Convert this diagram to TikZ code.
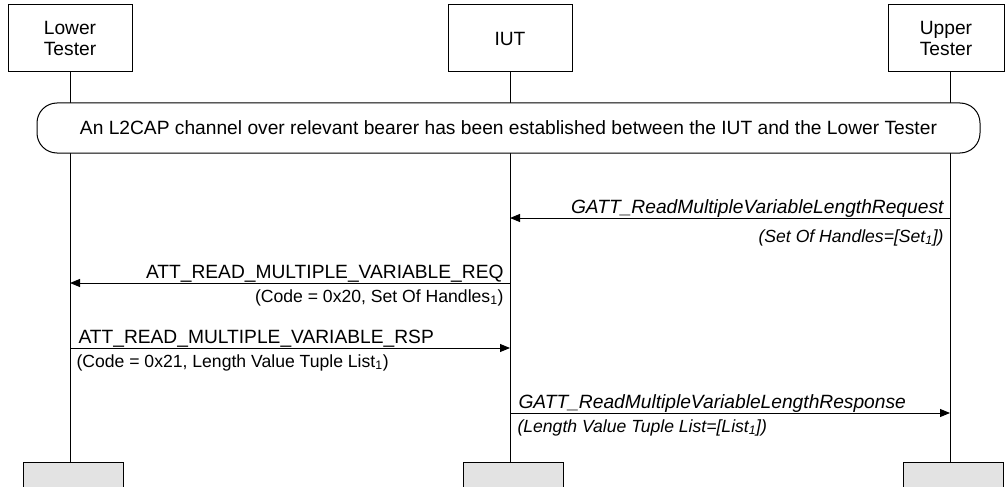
\documentclass[tikz,border=0pt]{standalone}
\usepackage{fontspec}
\setmainfont{Liberation Sans}
\usetikzlibrary{arrows.meta, positioning}

\begin{document}
\begin{tikzpicture}[
        x=1pt, y=-1pt,
        node distance=440pt,
        every node/.style={font=\fontsize{19.2}{21.5}\selectfont},
        head/.style={draw, line width=1pt, minimum width=124pt, minimum height=67pt, align=center, inner sep=0pt},
        arrow/.style={-{Triangle[length=10pt, width=8pt]}, line width=1pt}
    ]

    \tikzset{
    life/.style={line width=1pt},
    tail/.style={draw, line width=1pt, fill=black!11, minimum width=100pt, minimum height=34pt},
    cond/.style={draw, line width=1pt, fill=white, rounded corners=20pt, minimum width=943pt, minimum height=50pt},
    msgtop/.style={inner sep=0pt, yshift=5pt},
    msgsub/.style={inner sep=0pt, yshift=-19pt, font=\fontsize{17.6}{20}\selectfont}
}

    \useasboundingbox (0,0) rectangle (1005,487);

    \node[head] (lt) at (70,38.5) {Lower\\Tester};
    \node[head] (iut) [right of=lt] {IUT};
    \node[head, minimum width=116pt, xshift=-4pt] (ut) [right of=iut] {Upper\\Tester};

    \node[tail] (lt-end) at (73.5,479) {};
    \node[tail] (iut-end) at (513.5,479) {};
    \node[tail] (ut-end) at (953.5,479) {};

    \coordinate (ut-line) at ([xshift=4pt]ut.south);
    \draw[life] (lt.south) -- (lt.south |- lt-end.north);
    \draw[life] (iut.south) -- (iut.south |- iut-end.north);
    \draw[life] (ut-line) -- (ut-line |- ut-end.north);

    \node[cond] (l2cap) at (508.5,128) {An L2CAP channel over relevant bearer has been established between the IUT and the Lower Tester};

    \coordinate (m1) at (0,218);
    \coordinate (m2) at (0,283);
    \coordinate (m3) at (0,348);
    \coordinate (m4) at (0,413);

    \draw[arrow] (ut-line |- m1) -- (iut |- m1)
        node[msgtop, pos=0, anchor=base east, xshift=-6pt] {\itshape GATT\_ReadMultipleVariableLengthRequest}
        node[msgsub, pos=0, anchor=base east, xshift=-6pt, yshift=-5pt] {\itshape (Set Of Handles=[Set\textsubscript{1}])};
    \draw[arrow] (iut |- m2) -- (lt |- m2)
        node[msgtop, pos=0, anchor=base east, xshift=-6pt] {ATT\_READ\_MULTIPLE\_VARIABLE\_REQ}
        node[msgsub, pos=0, anchor=base east, xshift=-6pt] {(Code = 0x20, Set Of Handles\textsubscript{1})};
    \draw[arrow] (lt |- m3) -- (iut |- m3)
        node[msgtop, pos=0, anchor=base west, xshift=8pt] {ATT\_READ\_MULTIPLE\_VARIABLE\_RSP}
        node[msgsub, pos=0, anchor=base west, xshift=6pt] {(Code = 0x21, Length Value Tuple List\textsubscript{1})};
    \draw[arrow] (iut |- m4) -- (ut-line |- m4)
        node[msgtop, pos=0, anchor=base west, xshift=8pt] {\itshape GATT\_ReadMultipleVariableLengthResponse}
        node[msgsub, pos=0, anchor=base west, xshift=7pt] {\itshape (Length Value Tuple List=[List\textsubscript{1}])};
    \end{tikzpicture}
\end{document}
